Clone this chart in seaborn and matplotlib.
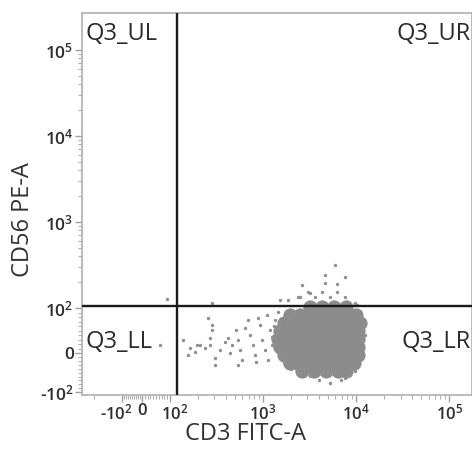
import numpy as np
import pandas as pd
import matplotlib
matplotlib.use("Agg")
import matplotlib.pyplot as plt
import matplotlib.transforms as mtrans
import seaborn as sns
from matplotlib.ticker import FixedLocator, FixedFormatter, NullFormatter

# ---------------- data ----------------
x_label = "CD3 FITC-A"
y_label = "CD56 PE-A"
quadrant_names = ["Q3_UL", "Q3_UR", "Q3_LL", "Q3_LR"]
gate_x = 120
gate_y = 105

tick_values = [-100, 0, 100, 1000, 10000, 100000]
tick_labels = ["-$10^{2}$", "0", "$10^{2}$", "$10^{3}$", "$10^{4}$", "$10^{5}$"]

# dense core of the population (CD3+, CD56-)
core_x = [3200, 4305, 5795, 7800,
          1950, 2500, 3365, 4530, 6095, 8200, 10000,
          1682, 2155, 2831, 3715, 5000, 6730, 9060, 11040,
          1523, 1950, 2563, 3365, 4530, 6095, 8200, 10500,
          1450, 1857, 2438, 3200, 4305, 5795, 7800, 10500,
          1523, 1950, 2563, 3365, 4530, 6095, 8200, 10500,
          1682, 2155, 2831, 3715, 5000, 6730, 9060, 10500,
          1950, 2500, 3365, 4530, 6095, 8200, 9510,
          2626, 3535, 4755, 6400, 7800]
core_y = [103, 103, 103, 103,
          84, 84, 84, 84, 84, 84, 84,
          67, 67, 67, 67, 67, 67, 67, 67,
          49, 49, 49, 49, 49, 49, 49, 49,
          31, 31, 31, 31, 31, 31, 31, 31,
          13, 13, 13, 13, 13, 13, 13, 13,
          -5, -5, -5, -5, -5, -5, -5, -5,
          -26, -26, -26, -26, -26, -26, -26,
          -46, -46, -46, -46, -46]

# scattered events
evt_x = [5945, 4642, 4642, 7620, 2626, 4305, 6250, 3200, 1857, 1523, 2500,
         3625, 5250, 7620, 9750, 10250, 283, 89, 6250, 3048, 2377,
         138, 164, 186, 195, 238, 269, 283, 283, 269, 305, 345, 390, 442,
         420, 464, 512, 538, 566, 595, 640, 690, 725, 781, 820, 884, 929,
         975, 1051, 1104, 1189, 1250, 1132, 1346, 1450, 1523, 841, 538,
         305, 210, 156, 256, 64,
         5250, 3200, 7620, 2208, 1725, 11600, 12200, 11040, 9060, 1950, 2264,
         1400, 1350, 1600, 1300, 1250, 1700, 2400, 4000, 6800, 9800, 11800,
         12400, 11300, 8700, 4200, 2900, 2000, 1450]
evt_y = [316, 242, 195, 229, 185, 153, 153, 149, 124, 124, 134,
         134, 134, 134, 114, 108, 114, 127, 190, 153, 134,
         29, 11, 2, 18, 11, 18, 51, 62, 33, -13, 7, 24, 0,
         33, 18, 51, 29, 7, -18, 56, 73, 40, 18, -5, 78, 62,
         29, 7, 84, 51, 18, -18, 73, 91, 62, -23, -31,
         -31, 18, -5, 78, 18,
         -77, -59, -64, -38, -18, 29, 62, -5, -38, 78, 91,
         45, 20, 0, 60, 35, -25, -50, -70, -68, -45, 10,
         40, 80, -55, 112, 110, -40, 5]

core = pd.DataFrame({"x": core_x, "y": core_y})
events = pd.DataFrame({"x": evt_x, "y": evt_y})


# ---------------- biexponential-like scale ----------------
def biex(kp, kn):
    def fwd(v):
        v = np.asarray(v, float)
        a = np.abs(v)
        big = np.log10(np.maximum(a, 100.0)) - 2
        pos = np.where(v >= 100, big + kp, v / 100 * kp)
        neg = np.where(v <= -100, -(big + kn), v / 100 * kn)
        return np.where(v >= 0, pos, neg)

    def inv(u):
        u = np.asarray(u, float)
        up = np.clip(u - kp + 2, -10, 12)
        un = np.clip(-u - kn + 2, -10, 12)
        pos = np.where(u >= kp, 10 ** up, u / kp * 100)
        neg = np.where(u <= -kn, -(10 ** un), u / kn * 100)
        return np.where(u >= 0, pos, neg)

    return fwd, inv


sns.set_style("white")
plt.rcParams["font.family"] = ["Open Sans", "DejaVu Sans"]
plt.rcParams["mathtext.default"] = "regular"

fig = plt.figure(figsize=(4.72, 4.67), dpi=100)
ax = fig.add_axes([82 / 472, 72 / 467, 390 / 472, 382 / 467])
ax.set_xscale("function", functions=biex(0.301, 0.215))
ax.set_yscale("function", functions=biex(0.523, 0.453))
ax.set_xlim(-269, 176000)
ax.set_ylim(-108, 270000)

sns.scatterplot(data=core, x="x", y="y", ax=ax, s=105, color="#8c8c8c",
                linewidth=0, legend=False, zorder=2)
sns.scatterplot(data=events, x="x", y="y", ax=ax, s=6, color="#8f8f8f",
                linewidth=0, legend=False, zorder=3)

ax.axvline(gate_x, color="#1a1a1a", lw=1.7, zorder=4)
ax.axhline(gate_y, color="#1a1a1a", lw=1.7, zorder=4)

minor = ([-200] + [-10 * i for i in range(1, 10)] + [10 * i for i in range(1, 10)]
         + [m * 10 ** k for k in (2, 3, 4) for m in range(2, 10)])
for axis in (ax.xaxis, ax.yaxis):
    axis.set_major_locator(FixedLocator(tick_values))
    axis.set_major_formatter(FixedFormatter(tick_labels))
    axis.set_minor_locator(FixedLocator(minor))
    axis.set_minor_formatter(NullFormatter())

ax.tick_params(which="major", direction="out", length=5, width=1,
               color="#a0a0a0", labelcolor="#2e2e2e", labelsize=12.5, pad=1)
ax.tick_params(axis="x", which="major", labelsize=12)
ax.tick_params(which="minor", direction="out", length=3, width=0.8,
               color="#b0b0b0")
ax.tick_params(axis="both", which="both", bottom=True, left=True)
for lab in ax.get_xticklabels() + ax.get_yticklabels():
    lab.set_fontweight("semibold")
for sp in ax.spines.values():
    sp.set_color("#b5b5b5")
    sp.set_linewidth(1.3)

# nudge the crowded x labels near zero apart a little
xt = ax.xaxis.get_major_ticks()
xt[0].label1.set_transform(xt[0].label1.get_transform()
                           + mtrans.ScaledTranslation(-4 / 72, 0, fig.dpi_scale_trans))
xt[2].label1.set_transform(xt[2].label1.get_transform()
                           + mtrans.ScaledTranslation(3 / 72, 0, fig.dpi_scale_trans))

ax.set_xlabel(x_label, fontsize=17, color="#333333")
ax.set_ylabel(y_label, fontsize=17, color="#333333")
ax.xaxis.set_label_coords(0.418, -0.07)
ax.yaxis.set_label_coords(-0.12, 0.46)

qkw = dict(transform=ax.transAxes, fontsize=17, color="#2b2b2b", va="center")
ax.text(0.008, 0.944, quadrant_names[0], ha="left", **qkw)
ax.text(0.997, 0.944, quadrant_names[1], ha="right", **qkw)
ax.text(0.008, 0.139, quadrant_names[2], ha="left", **qkw)
ax.text(0.997, 0.139, quadrant_names[3], ha="right", **qkw)

fig.savefig("out.png", dpi=100)
